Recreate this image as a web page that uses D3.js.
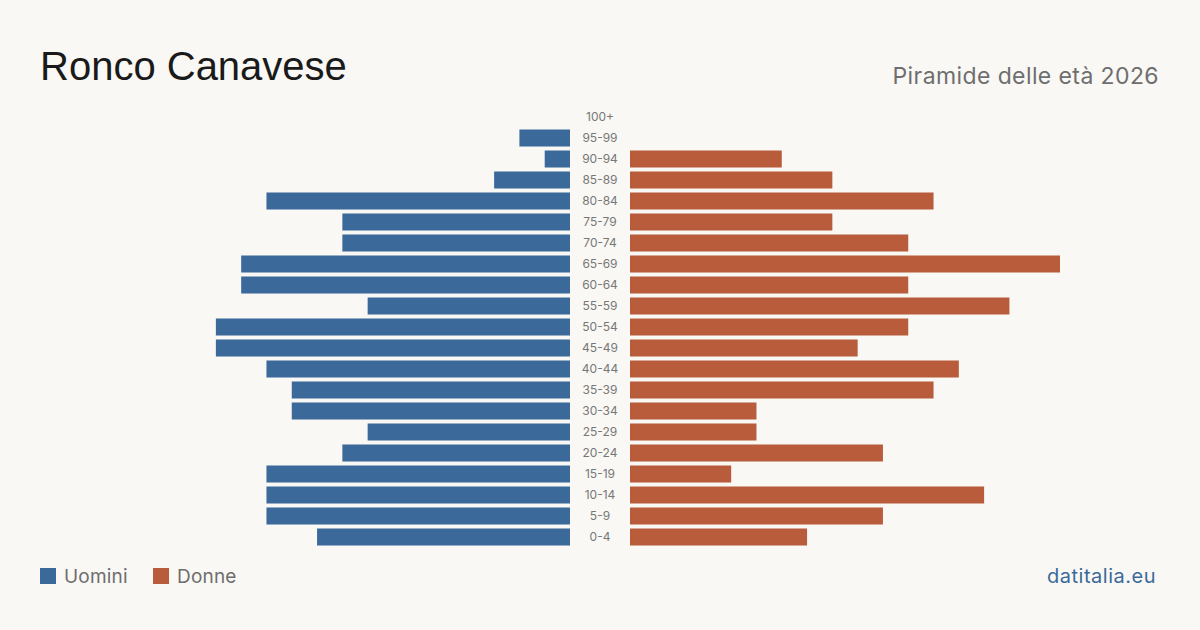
<!DOCTYPE html>
<html>
<head>
<meta charset="utf-8">
<script src="https://cdn.jsdelivr.net/npm/d3@7"></script>
<style>
  html, body { margin: 0; padding: 0; background: #f9f8f4; }
  svg { display: block; }
</style>
</head>
<body>
<div id="chart"></div>
<script>
// fasce d'età, dalla più giovane alla più anziana
const ageGroups = ["0-4","5-9","10-14","15-19","20-24","25-29","30-34","35-39","40-44","45-49",
                   "50-54","55-59","60-64","65-69","70-74","75-79","80-84","85-89","90-94","95-99","100+"];
const men   = [10, 12, 12, 12, 9, 8, 11, 11, 12, 14, 14, 8, 13, 13, 9, 9, 12, 3, 1, 2, 0];
const women = [7, 10, 14, 4, 10, 5, 5, 12, 13, 9, 11, 15, 11, 17, 11, 8, 12, 8, 6, 0, 0];

const W = 1200, H = 630;
const blue = "#3b6a9a", red = "#b85c3c";
const font = "Inter, 'Liberation Sans', sans-serif";

const svg = d3.select("#chart").append("svg")
    .attr("width", W)
    .attr("height", H)
    .style("background", "#f9f8f4");

const rows = ageGroups.map((g, i) => ({ age: g, m: men[i], f: women[i] }));

const y = d3.scaleBand()
    .domain(ageGroups.slice().reverse())
    .range([106.5, 547.5])
    .paddingInner(0.19)
    .paddingOuter(0.095);

const len = d3.scaleLinear()
    .domain([0, d3.max([...men, ...women])])
    .range([0, 430]);

const leftEdge = 570, rightEdge = 630;

svg.append("g").selectAll("rect")
    .data(rows.filter(d => d.m > 0))
    .enter().append("rect")
        .attr("x", d => leftEdge - len(d.m))
        .attr("y", d => y(d.age))
        .attr("width", d => len(d.m))
        .attr("height", y.bandwidth())
        .attr("fill", blue);

svg.append("g").selectAll("rect")
    .data(rows.filter(d => d.f > 0))
    .enter().append("rect")
        .attr("x", rightEdge)
        .attr("y", d => y(d.age))
        .attr("width", d => len(d.f))
        .attr("height", y.bandwidth())
        .attr("fill", red);

svg.append("g").selectAll("text")
    .data(rows)
    .enter().append("text")
        .attr("x", (leftEdge + rightEdge) / 2)
        .attr("y", d => y(d.age) + y.bandwidth() / 2)
        .attr("dy", "0.35em")
        .attr("text-anchor", "middle")
        .attr("font-family", font)
        .attr("font-size", 12)
        .attr("fill", "#777")
        .text(d => d.age);

// titoli
svg.append("text")
    .attr("x", 40).attr("y", 80)
    .attr("font-family", "'Liberation Sans', Arial, sans-serif")
    .attr("font-size", 40)
    .attr("fill", "#1a1a1a")
    .text("Ronco Canavese");

svg.append("text")
    .attr("x", 1159).attr("y", 84)
    .attr("text-anchor", "end")
    .attr("font-family", font)
    .attr("font-size", 23)
    .attr("letter-spacing", 0.4)
    .attr("fill", "#6e6e6e")
    .text("Piramide delle età 2026");

// legenda
const legend = [{ label: "Uomini", color: blue, x: 40 }, { label: "Donne", color: red, x: 153 }];
const lg = svg.append("g").selectAll("g")
    .data(legend)
    .enter().append("g")
        .attr("transform", d => `translate(${d.x}, 568)`);

lg.append("rect")
    .attr("width", 16).attr("height", 16)
    .attr("fill", d => d.color);

lg.append("text")
    .attr("x", 24).attr("y", 15)
    .attr("font-family", font)
    .attr("font-size", 19)
    .attr("letter-spacing", 0.2)
    .attr("fill", "#6e6e6e")
    .text(d => d.label);

svg.append("text")
    .attr("x", 1156).attr("y", 583)
    .attr("text-anchor", "end")
    .attr("font-family", font)
    .attr("font-size", 20)
    .attr("letter-spacing", 0.5)
    .attr("fill", blue)
    .text("datitalia.eu");
</script>
</body>
</html>
